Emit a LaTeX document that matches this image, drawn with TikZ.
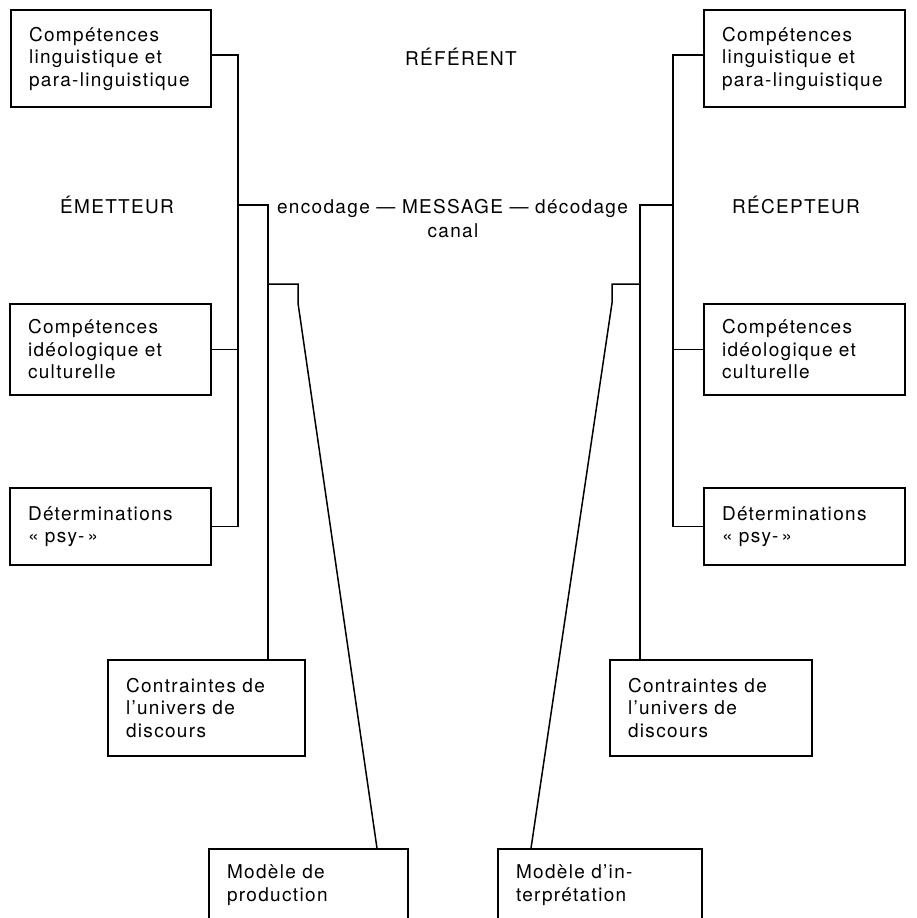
\documentclass[tikz,border=0pt]{standalone}
\usepackage{fontspec}
\setmainfont{TeX Gyre Heros}[LetterSpace=7]
\begin{document}
\begin{tikzpicture}[x=1pt,y=-1pt,
  txt/.style={font=\fontsize{19}{22.5}\selectfont, inner sep=0pt},
  box/.style={draw, line width=1.5pt, rectangle, inner xsep=18pt, inner ysep=0pt,
    align=left, font=\fontsize{19}{22.5}\selectfont},
  wire/.style={line width=1.5pt}]
\useasboundingbox (0,0) rectangle (916,918);

% left boxes
\node[box, text width=164pt, minimum height=97pt] (L1) at (111,58.5) {Compétences\\linguistique et\\para-linguistique};
\node[box, text width=165pt, minimum height=91pt] (L2) at (110.5,349.5) {Compétences\\idéologique et\\culturelle};
\node[box, text width=165pt, minimum height=77pt] (L3) at (110.5,526.5) {Déterminations\\«~psy-\,»};
\node[box, text width=161pt, minimum height=96pt] (L4) at (206.5,708) {Contraintes de\\l'univers de\\discours};
\node[box, text width=163pt, minimum height=72pt] (L5) at (308.5,885) {Modèle de\\production};

% right boxes
\node[box, text width=165pt, minimum height=97pt] (R1) at (804.5,58.5) {Compétences\\linguistique et\\para-linguistique};
\node[box, text width=165pt, minimum height=91pt] (R2) at (804.5,349.5) {Compétences\\idéologique et\\culturelle};
\node[box, text width=165pt, minimum height=77pt] (R3) at (804.5,526.5) {Déterminations\\«~psy-\,»};
\node[box, text width=166pt, minimum height=96pt] (R4) at (711,708) {Contraintes de\\l'univers de\\discours};
\node[box, text width=168pt, minimum height=72pt] (R5) at (600,885) {Modèle d'in-\\terprétation};

% free labels
\node[txt, anchor=base] (ref) at (461,65) {RÉFÉRENT};
\node[txt, anchor=base] (em) at (117,213) {ÉMETTEUR};
\node[txt, anchor=base] (rec) at (796,213) {RÉCEPTEUR};
\node[txt, anchor=base] (msg) at (452.5,213) {encodage — MESSAGE — décodage};
\node[txt, anchor=base] (can) at (453,237) {canal};

% helper coordinates
\coordinate (sL) at (238,205);
\coordinate (iL) at (268,205);
\coordinate (bL) at (268,284);
\coordinate (kL) at (298,284);
\coordinate (dL) at (298,303);
\coordinate (eL) at (377,0);
\coordinate (sR) at (673,205);
\coordinate (iR) at (640,205);
\coordinate (bR) at (640,284);
\coordinate (kR) at (612,284);
\coordinate (dR) at (612,303);
\coordinate (eR) at (531,0);

% left connectors
\draw[wire] ([yshift=3.5pt]L1.east) -| (sL) |- (L3.east);
\draw[wire] (L2.east) -- (L2.east -| sL);
\draw[wire] (sL) -- (iL) -- (iL |- L4.north);
\draw[wire] (bL) -- (kL) -- (dL) -- (L5.north -| eL);

% right connectors
\draw[wire] ([yshift=3.5pt]R1.west) -| (sR) |- (R3.west);
\draw[wire] (R2.west) -- (R2.west -| sR);
\draw[wire] (sR) -- (iR) -- (iR |- R4.north);
\draw[wire] (bR) -- (kR) -- (dR) -- (R5.north -| eR);
\end{tikzpicture}
\end{document}
